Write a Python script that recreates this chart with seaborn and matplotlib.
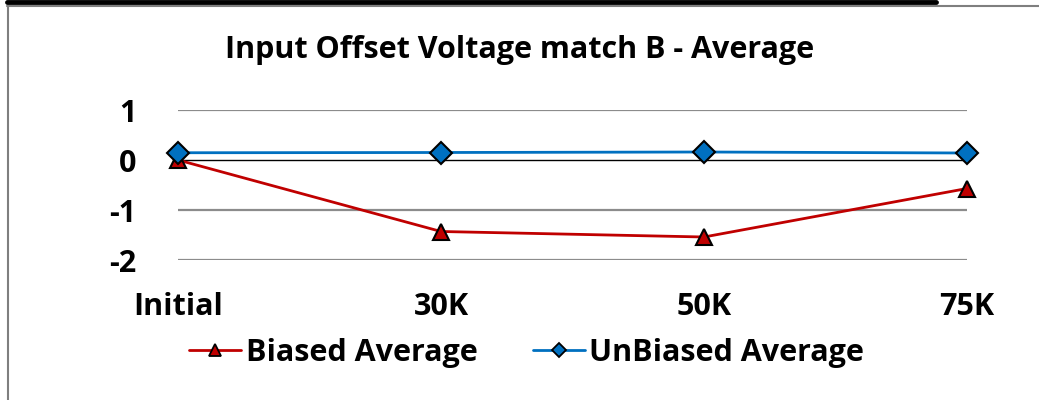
import numpy as np
import pandas as pd
import matplotlib.pyplot as plt
import seaborn as sns
from matplotlib.lines import Line2D

stages = ["Initial", "30K", "50K", "75K"]
biased = [0.0, -1.43, -1.54, -0.57]
unbiased = [0.145, 0.15, 0.16, 0.14]

sns.set_style("white")
plt.rcParams["font.family"] = ["Open Sans", "DejaVu Sans"]
plt.rcParams["text.color"] = "black"
plt.rcParams["xtick.color"] = "black"
plt.rcParams["ytick.color"] = "black"

df = pd.DataFrame({
    "stage": stages * 2,
    "x": list(range(len(stages))) * 2,
    "value": biased + unbiased,
    "series": ["Biased Average"] * 4 + ["UnBiased Average"] * 4,
})

fig = plt.figure(figsize=(10.39, 4), dpi=100)
ax = fig.add_axes([178 / 1039, 1 - 260 / 400, (967 - 178) / 1039, 150 / 400])

# gridlines (Excel style), zero line black
for v in [1, -1, -2]:
    ax.axhline(v, color="#8c8c8c", lw=1.6, zorder=0)
ax.axhline(0, color="black", lw=1.0, zorder=1)

palette = {"Biased Average": "#C00000", "UnBiased Average": "#0070C0"}
markers = {"Biased Average": "^", "UnBiased Average": "D"}
sns.lineplot(data=df, x="x", y="value", hue="series", style="series",
             palette=palette, markers=markers, dashes=False,
             markersize=11, markeredgecolor="black", markeredgewidth=1.5,
             lw=2.0, ax=ax, legend=False, clip_on=False, zorder=3)

ax.set_xlim(0, 3)
ax.set_ylim(-2, 1)
ax.set_yticks([1, 0, -1, -2])
ax.set_yticklabels(["1", "0", "-1", "-2"])
ax.set_xticks(range(len(stages)))
ax.set_xticklabels(stages)
ax.tick_params(axis="both", length=0, labelsize=22, labelcolor="black")
ax.tick_params(axis="y", pad=30)
ax.tick_params(axis="x", pad=23)
for lbl in ax.get_xticklabels() + ax.get_yticklabels():
    lbl.set_fontweight("bold")
ax.set_xlabel("")
ax.set_ylabel("")
for s in ax.spines.values():
    s.set_visible(False)

fig.text(0.5, 1 - 50 / 400, "Input Offset Voltage match B - Average",
         ha="center", va="center", fontsize=22, fontweight="bold",
         color="black")

handles = [
    Line2D([0], [0], color="#C00000", lw=2.0, marker="^", markersize=8,
           markerfacecolor="#C00000", markeredgecolor="black", markeredgewidth=1.3),
    Line2D([0], [0], color="#0070C0", lw=2.0, marker="D", markersize=7,
           markerfacecolor="#0070C0", markeredgecolor="black", markeredgewidth=1.3),
]
leg = fig.legend(handles, ["Biased Average", "UnBiased Average"], loc="center",
                 bbox_to_anchor=(0.507, 1 - 353 / 400), ncol=2, frameon=False,
                 prop={"size": 22, "weight": "bold"}, handlelength=1.7,
                 handletextpad=0.15, columnspacing=1.8)
for t in leg.get_texts():
    t.set_color("black")

# page borders
fig.add_artist(Line2D([7 / 1039, 936 / 1039], [1 - 1.5 / 400] * 2,
                      color="black", lw=3.5))
fig.add_artist(Line2D([7 / 1039, 1.0], [1 - 5.5 / 400] * 2,
                      color="#7f7f7f", lw=1.5))
fig.add_artist(Line2D([7.5 / 1039] * 2, [0, 1 - 5.5 / 400],
                      color="#7f7f7f", lw=1.5))

fig.savefig("out.png", dpi=100)
